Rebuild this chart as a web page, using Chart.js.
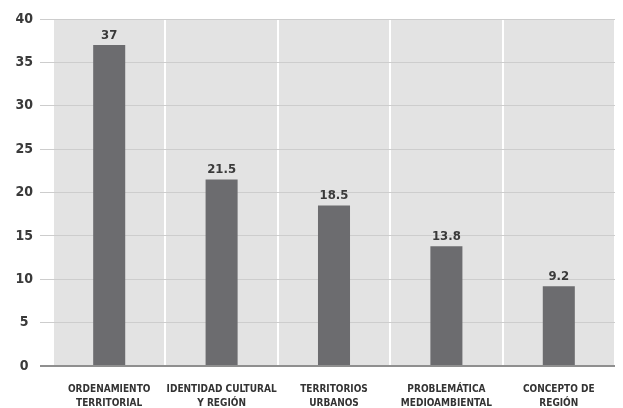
<!DOCTYPE html>
<html>
<head>
<meta charset="utf-8">
<script src="https://cdn.jsdelivr.net/npm/chart.js@4/dist/chart.umd.min.js"></script>
<style>
  html, body { margin:0; padding:0; background:#fff; overflow:hidden; }
  #wrap { width:623px; height:408px; }
</style>
</head>
<body>
<div id="wrap"><canvas id="myChart"></canvas></div>
<script>
const categorias = [
  ['ORDENAMIENTO', 'TERRITORIAL'],
  ['IDENTIDAD CULTURAL', 'Y REGIÓN'],
  ['TERRITORIOS', 'URBANOS'],
  ['PROBLEMÁTICA', 'MEDIOAMBIENTAL'],
  ['CONCEPTO DE', 'REGIÓN']
]
const valores = [37, 21.5, 18.5, 13.8, 9.2]
const etiquetas = ['37', '21.5', '18.5', '13.8', '9.2']

const fuente = "'Liberation Sans Narrow', 'DejaVu Sans Condensed', 'Roboto', sans-serif"

// fondo gris del area de trazado
const fondo = {
  id: 'fondo',
  beforeDraw(chart) {
    const { ctx, chartArea: a } = chart
    ctx.save()
    ctx.fillStyle = '#e3e3e3'
    ctx.fillRect(a.left, a.top, a.right - a.left, a.bottom - a.top)
    ctx.restore()
  }
}

// valores encima de cada barra
const valoresBarras = {
  id: 'valoresBarras',
  afterDatasetsDraw(chart) {
    const { ctx } = chart
    const meta = chart.getDatasetMeta(0)
    ctx.save()
    ctx.fillStyle = '#3a3a3a'
    ctx.font = 'bold 13px ' + fuente
    ctx.textAlign = 'center'
    ctx.textBaseline = 'bottom'
    meta.data.forEach((bar, i) => {
      ctx.fillText(etiquetas[i], bar.x, bar.y - 3)
    })
    ctx.restore()
  }
}

const ctx = document.getElementById('myChart').getContext('2d')
const myChart = new Chart(ctx, {
  type: 'bar',
  data: {
    labels: categorias,
    datasets: [{
      data: valores,
      backgroundColor: '#6c6c6f',
      borderWidth: 0,
      categoryPercentage: 1,
      barPercentage: 0.285
    }]
  },
  plugins: [fondo, valoresBarras],
  options: {
    responsive: true,
    maintainAspectRatio: false,
    animation: false,
    layout: { padding: { top: 19, right: 8, left: 0, bottom: 0 } },
    plugins: {
      legend: { display: false },
      tooltip: { enabled: false }
    },
    scales: {
      x: {
        offset: true,
        border: { display: false },
        grid: {
          offset: true,
          color: '#ffffff',
          lineWidth: 2,
          drawTicks: false
        },
        ticks: {
          color: '#333',
          padding: 17,
          maxRotation: 0,
          autoSkip: false,
          font: { family: fuente, size: 10, weight: 'bold', lineHeight: 1.35 }
        },
        afterFit(scale) { scale.height = 42 }
      },
      y: {
        min: 0,
        max: 40,
        border: { display: false },
        grid: {
          color: ctx => ctx.tick && ctx.tick.value === 0 ? '#8f8f8f' : '#cdcdcd',
          lineWidth: ctx => ctx.tick && ctx.tick.value === 0 ? 2 : 1,
          tickLength: 13
        },
        ticks: {
          stepSize: 5,
          color: '#3a3a3a',
          padding: 7,
          crossAlign: 'center',
          font: { family: fuente, size: 14, weight: 'bold' }
        },
        afterFit(scale) { scale.width = 53 }
      }
    }
  }
})
</script>
</body>
</html>
